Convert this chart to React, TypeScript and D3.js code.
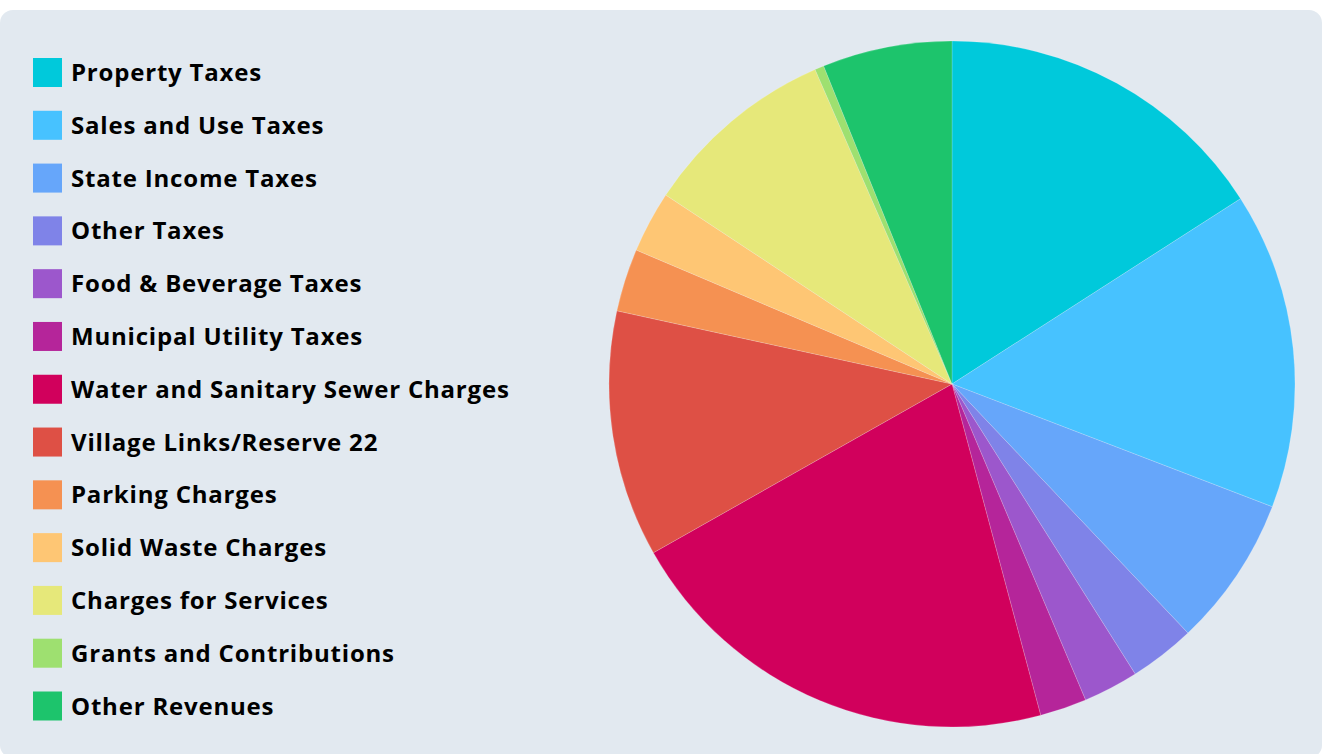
import React, { useEffect, useRef } from "react";
import * as d3 from "d3";

const categories = [
  "Property Taxes",
  "Sales and Use Taxes",
  "State Income Taxes",
  "Other Taxes",
  "Food & Beverage Taxes",
  "Municipal Utility Taxes",
  "Water and Sanitary Sewer Charges",
  "Village Links/Reserve 22",
  "Parking Charges",
  "Solid Waste Charges",
  "Charges for Services",
  "Grants and Contributions",
  "Other Revenues",
];

const values = [15.9, 14.9, 7.1, 3.1, 2.6, 2.2, 20.96, 11.6, 2.96, 2.9, 9.17, 0.43, 6.1];

const colors = [
  "#00c9db",
  "#47c2ff",
  "#66a6fa",
  "#7f83e8",
  "#9c57cc",
  "#b5259a",
  "#d1005c",
  "#de5045",
  "#f59152",
  "#fec674",
  "#e6e87a",
  "#9ee070",
  "#1dc46c",
];

const W = 1322;
const H = 754;

export default function App() {
  const ref = useRef<SVGSVGElement | null>(null);

  useEffect(() => {
    const svg = d3.select(ref.current);
    svg.selectAll("*").remove();

    svg
      .append("rect")
      .attr("x", 0)
      .attr("y", 10)
      .attr("width", W)
      .attr("height", 748)
      .attr("rx", 13)
      .attr("fill", "#e2e9f0");

    const cx = 952;
    const cy = 384;
    const r = 343;

    const pie = d3
      .pie<number>()
      .sort(null)
      .value((d) => d);
    const arc = d3.arc<d3.PieArcDatum<number>>().innerRadius(0).outerRadius(r);

    const g = svg.append("g").attr("transform", `translate(${cx},${cy})`);
    g.selectAll("path")
      .data(pie(values))
      .enter()
      .append("path")
      .attr("d", arc as any)
      .attr("fill", (_d, i) => colors[i])
      .attr("stroke", "rgba(255,255,255,0.35)")
      .attr("stroke-width", 0.5);

    const legend = svg.append("g");
    const rowY = d3
      .scaleLinear()
      .domain([0, categories.length - 1])
      .range([72.5, 706]);

    categories.forEach((c, i) => {
      const y = rowY(i);
      legend
        .append("rect")
        .attr("x", 33)
        .attr("y", y - 14.5)
        .attr("width", 29)
        .attr("height", 29)
        .attr("fill", colors[i]);
      legend
        .append("text")
        .attr("x", 71)
        .attr("y", y - 1)
        .attr("dominant-baseline", "central")
        .attr("font-family", "'Open Sans', sans-serif")
        .attr("font-weight", 700)
        .attr("font-size", 24)
        .attr("letter-spacing", 0.8)
        .attr("fill", "#000")
        .text(c);
    });
  }, []);

  return (
    <svg
      ref={ref}
      width={W}
      height={H}
      style={{ position: "absolute", left: 0, top: 0, display: "block" }}
    />
  );
}
